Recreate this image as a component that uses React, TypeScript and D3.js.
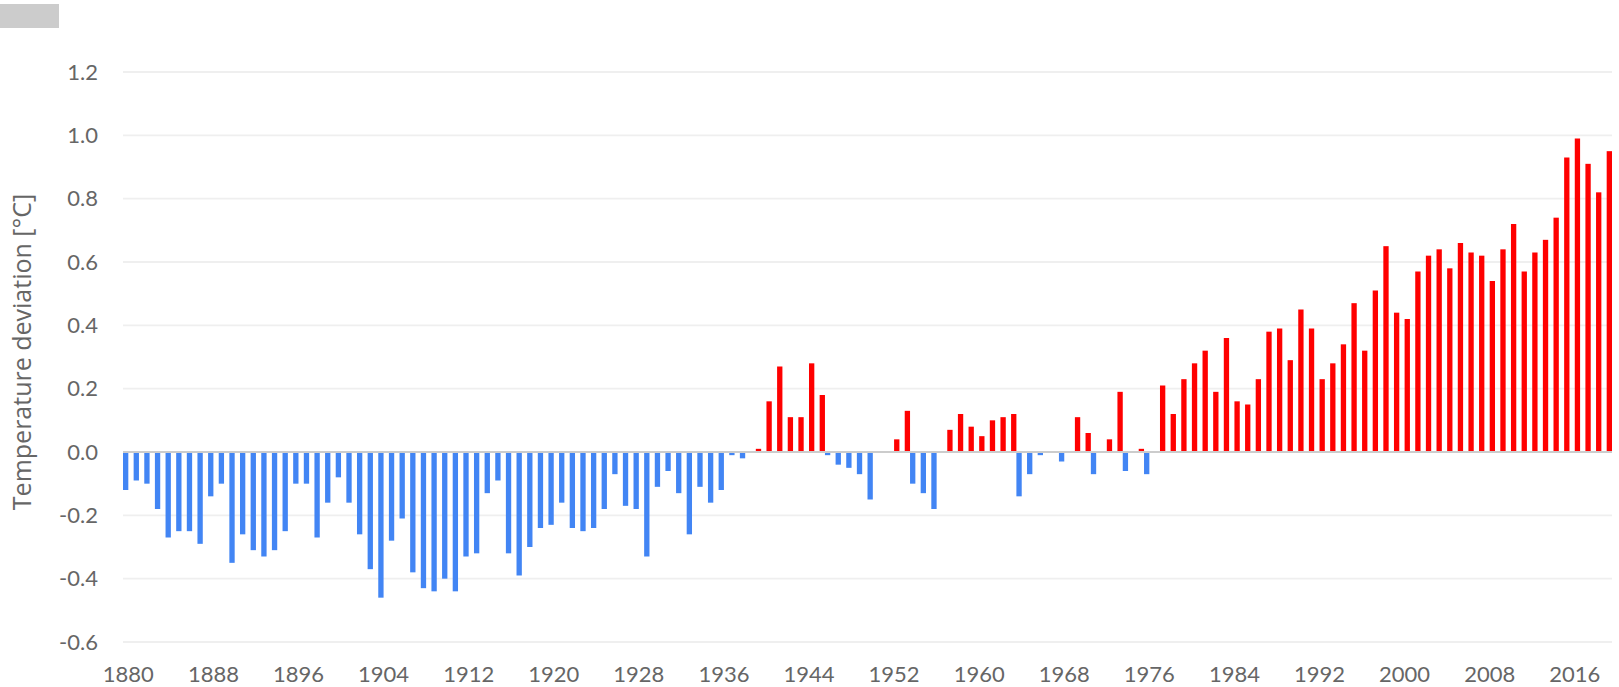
import * as d3 from "d3"
import React, { useEffect, useRef } from "react"

// chart size, same as the page
const outerWidth = 1619,
  outerHeight = 687
const margin = { top: 72, right: 7, bottom: 45, left: 123 }
const width = outerWidth - margin.left - margin.right
const height = outerHeight - margin.top - margin.bottom

// years on the x axis
const years = d3.range(1880, 2020)

// yearly temperature deviation [°C]
const deviation1880s = [-0.12, -0.09, -0.10, -0.18, -0.27, -0.25, -0.25, -0.29, -0.14, -0.10]
const deviation1890s = [-0.35, -0.26, -0.31, -0.33, -0.31, -0.25, -0.10, -0.10, -0.27, -0.16]
const deviation1900s = [-0.08, -0.16, -0.26, -0.37, -0.46, -0.28, -0.21, -0.38, -0.43, -0.44]
const deviation1910s = [-0.40, -0.44, -0.33, -0.32, -0.13, -0.09, -0.32, -0.39, -0.30, -0.24]
const deviation1920s = [-0.23, -0.16, -0.24, -0.25, -0.24, -0.18, -0.07, -0.17, -0.18, -0.33]
const deviation1930s = [-0.11, -0.06, -0.13, -0.26, -0.11, -0.16, -0.12, -0.01, -0.02, 0.01]
const deviation1940s = [0.16, 0.27, 0.11, 0.11, 0.28, 0.18, -0.01, -0.04, -0.05, -0.07]
const deviation1950s = [-0.15, 0.0, 0.04, 0.13, -0.10, -0.13, -0.18, 0.07, 0.12, 0.08]
const deviation1960s = [0.05, 0.10, 0.11, 0.12, -0.14, -0.07, -0.01, 0.0, -0.03, 0.11]
const deviation1970s = [0.06, -0.07, 0.04, 0.19, -0.06, 0.01, -0.07, 0.21, 0.12, 0.23]
const deviation1980s = [0.28, 0.32, 0.19, 0.36, 0.16, 0.15, 0.23, 0.38, 0.39, 0.29]
const deviation1990s = [0.45, 0.39, 0.23, 0.28, 0.34, 0.47, 0.32, 0.51, 0.65, 0.44]
const deviation2000s = [0.42, 0.57, 0.62, 0.64, 0.58, 0.66, 0.63, 0.62, 0.54, 0.64]
const deviation2010s = [0.72, 0.57, 0.63, 0.67, 0.74, 0.93, 0.99, 0.91, 0.82, 0.95]

const deviations = [
  ...deviation1880s, ...deviation1890s, ...deviation1900s, ...deviation1910s,
  ...deviation1920s, ...deviation1930s, ...deviation1940s, ...deviation1950s,
  ...deviation1960s, ...deviation1970s, ...deviation1980s, ...deviation1990s,
  ...deviation2000s, ...deviation2010s
]

// two series: cooler years (blue) and warmer years (red)
const seriesNames = ["below", "above"]
const seriesColours = ["#4285f4", "#ff0000"]

const yTicks = [-0.6, -0.4, -0.2, 0.0, 0.2, 0.4, 0.6, 0.8, 1.0, 1.2]
const xTickYears = d3.range(1880, 2020, 8)

const fontFamily = "Lato, 'Open Sans', sans-serif"
const titleFont = "'Open Sans', Lato, sans-serif"
const textColour = "#666666"

export default function App() {
  const ref = useRef<SVGSVGElement>(null)

  useEffect(() => {
    const root = d3.select(ref.current)
    root.selectAll("*").remove()

    // grey box at the top left corner
    root.append("rect")
      .attr("x", 0)
      .attr("y", 4)
      .attr("width", 59)
      .attr("height", 24)
      .attr("fill", "#cccccc")

    const svg = root.append("g")
      .attr("transform", "translate(" + margin.left + "," + margin.top + ")")

    const xScale = d3.scaleBand<number>()
      .domain(years)
      .range([0, width])
      .padding(0)

    const xSub = d3.scaleBand<string>()
      .domain(seriesNames)
      .range([0, xScale.bandwidth()])
      .padding(0)

    const yScale = d3.scaleLinear()
      .domain([-0.6, 1.2])
      .range([height, 0])

    // horizontal grid
    svg.append("g")
      .selectAll("line")
      .data(yTicks)
      .enter()
      .append("line")
      .attr("x1", 0)
      .attr("x2", width)
      .attr("y1", d => yScale(d))
      .attr("y2", d => yScale(d))
      .attr("stroke", "#efefef")
      .attr("stroke-width", 1.8)

    // y tick labels
    svg.append("g")
      .selectAll("text")
      .data(yTicks)
      .enter()
      .append("text")
      .attr("x", -25)
      .attr("y", d => yScale(d))
      .attr("dy", "0.35em")
      .attr("text-anchor", "end")
      .attr("font-family", fontFamily)
      .attr("font-size", 22)
      .attr("fill", textColour)
      .text(d => d3.format(".1f")(d).replace("−", "-"))

    // x tick labels
    svg.append("g")
      .selectAll("text")
      .data(xTickYears)
      .enter()
      .append("text")
      .attr("x", d => (xScale(d) as number) + xScale.bandwidth() / 2)
      .attr("y", height + 40)
      .attr("text-anchor", "middle")
      .attr("font-family", fontFamily)
      .attr("font-size", 22)
      .attr("fill", textColour)
      .text(d => d)

    // bars, each year split into the blue and red series
    const bars = years.map((year, i) => ({ year, value: deviations[i] }))
    svg.append("g")
      .selectAll("rect")
      .data(bars.filter(d => d.value !== 0))
      .enter()
      .append("rect")
      .attr("x", d => (xScale(d.year) as number) + (xSub(d.value < 0 ? "below" : "above") as number))
      .attr("width", xSub.bandwidth())
      .attr("y", d => yScale(Math.max(0, d.value)))
      .attr("height", d => Math.abs(yScale(d.value) - yScale(0)))
      .attr("fill", d => d.value < 0 ? seriesColours[0] : seriesColours[1])

    // zero baseline
    svg.append("line")
      .attr("x1", 0)
      .attr("x2", width)
      .attr("y1", yScale(0))
      .attr("y2", yScale(0))
      .attr("stroke", "#cccccc")
      .attr("stroke-width", 2)

    // y axis title
    root.append("text")
      .attr("transform", "translate(31,352) rotate(-90)")
      .attr("text-anchor", "middle")
      .attr("font-family", titleFont)
      .attr("font-size", 25)
      .attr("fill", textColour)
      .text("Temperature deviation [°C]")
  }, [])

  return (
    <svg
      ref={ref}
      width={outerWidth}
      height={outerHeight}
      style={{ position: "absolute", left: 0, top: 0, background: "#ffffff" }}
    />
  )
}
